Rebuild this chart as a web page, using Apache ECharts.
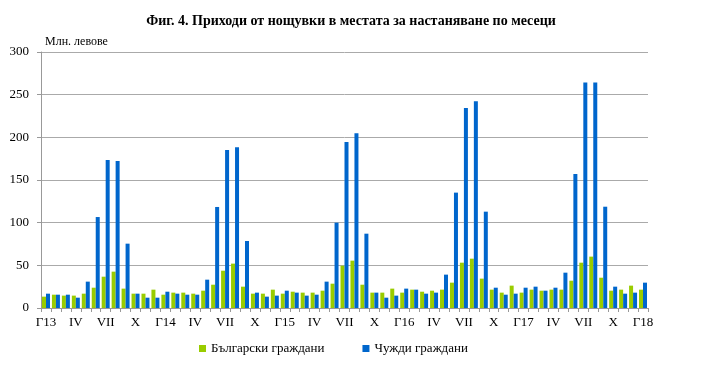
<!DOCTYPE html>
<html><head><meta charset="utf-8">
<script src="https://cdn.jsdelivr.net/npm/echarts@6/dist/echarts.min.js"></script>
<style>html,body{margin:0;padding:0;background:#fff}#c{width:702px;height:375px}</style>
</head><body><div id="c"></div>
<script>
const romans = ['Г13','II','III','IV','V','VI','VII','VIII','IX','X','XI','XII'];
const years = ['13','14','15','16','17','18'];
const categories = [];
for (let y = 0; y < years.length; y++) {
  for (let m = 0; m < 12; m++) {
    if (y === 5 && m > 0) break;
    categories.push(m === 0 ? 'Г' + years[y] : romans[m]);
  }
}
const bulgarian = [
  13.3,15.6,14.5,14.5,16.8,23.8,36.7,42.6,22.7,16.8,16.8,21.5,
  15.6,18.0,18.0,16.8,20.3,27.3,43.7,52.0,25.0,16.8,16.8,21.5,
  16.8,19.1,18.0,18.0,20.3,28.5,49.6,55.5,27.3,18.0,18.0,22.7,
  18.0,21.5,19.1,20.3,21.5,29.7,53.1,57.8,34.4,21.5,18.0,26.2,
  18.0,21.5,20.3,21.5,21.5,32.0,53.1,60.2,35.5,20.3,21.5,26.2,
  21.5
];
const foreign = [
  16.8,15.6,15.6,12.1,30.9,106.6,173.4,172.3,75.4,16.8,12.1,12.1,
  19.1,16.8,15.6,15.6,33.2,118.4,185.1,188.5,78.5,18.0,13.3,14.5,
  20.3,18.0,14.5,15.6,30.9,100.0,194.5,204.7,87.1,18.0,12.1,14.5,
  22.7,21.5,16.8,18.0,39.1,135.2,234.4,242.2,112.9,23.8,15.6,16.8,
  23.8,25.0,20.3,23.8,41.4,157.0,264.4,264.4,118.7,25.0,16.8,18.0,
  29.7
];
const yTicks = [0,50,100,150,200,250,300];
const seriesNames = ['Български граждани','Чужди граждани'];
const titleText = 'Фиг. 4. Приходи от нощувки в местата за настаняване по месеци';
const unitText = 'Млн. левове';

const showIdx = new Set(); for (let i = 0; i < categories.length; i += 3) showIdx.add(i);
const chart = echarts.init(document.getElementById('c'), null, {renderer:'canvas'});
const serif = '"Liberation Serif","Times New Roman",serif';
chart.setOption({
  animation:false,
  title:[{text:titleText,left:'center',top:9,textStyle:{fontFamily:serif,fontSize:14,fontWeight:'bold',color:'#000'}},
         {text:unitText,left:40,top:31,textStyle:{fontFamily:serif,fontSize:12,fontWeight:'normal',color:'#000'}}],
  legend:{bottom:15,left:194,itemWidth:7,itemHeight:7,itemGap:38,icon:'rect',
    textStyle:{fontFamily:serif,fontSize:13,color:'#000'},data:seriesNames},
  grid:{left:41,right:54,top:52,bottom:67,containLabel:false},
  xAxis:{type:'category',data:categories,boundaryGap:true,
    axisLine:{lineStyle:{color:'#999',width:1}},
    axisTick:{show:true,interval:0,length:4,lineStyle:{color:'#999'}},
    axisLabel:{interval:0,margin:8,fontFamily:serif,fontSize:13,color:'#000',
      formatter:(v,i)=>showIdx.has(i)?v:''}},
  yAxis:{type:'value',min:yTicks[0],max:yTicks[yTicks.length-1],interval:50,
    axisLine:{show:true,lineStyle:{color:'#999'}},
    axisTick:{show:true,length:4,lineStyle:{color:'#999'}},
    axisLabel:{fontFamily:serif,fontSize:13,color:'#000',margin:12},
    splitLine:{lineStyle:{color:'#aaa',width:1}}},
  series:[
    {name:seriesNames[0],type:'bar',data:bulgarian,barWidth:4,barGap:'0%',itemStyle:{color:'#99CC00'}},
    {name:seriesNames[1],type:'bar',data:foreign,barWidth:4,itemStyle:{color:'#0066CC'}}
  ]
});
</script></body></html>
